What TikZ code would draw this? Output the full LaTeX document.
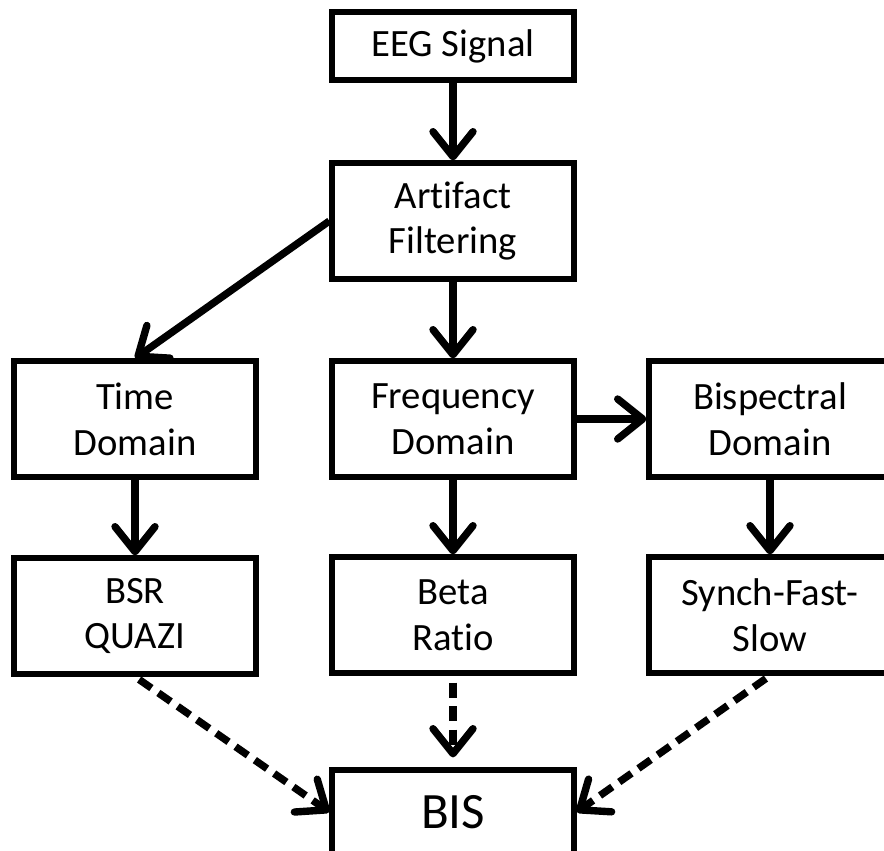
\documentclass[tikz,border=0pt]{standalone}
\usepackage{fontspec}
\setmainfont{Carlito}[Ligatures=NoCommon]
\usetikzlibrary{arrows.meta}
\definecolor{ink}{HTML}{000000}

\begin{document}
\begin{tikzpicture}[>={Straight Barb[length=5mm, width=8mm, round]}]
    \tikzset{
      blk/.style={draw=ink, line width=3pt, inner sep=0pt, align=center,
        minimum width=4.84cm, minimum height=2.32cm,
        font=\fontsize{22}{26}\selectfont},
      arr/.style={->, line width=4.2pt, draw=ink},
      darr/.style={arr, dash pattern=on 0.3cm off 0.17cm}
    }
    \clip (0,0) rectangle (17.68,-17);

    % processing chain
    \node[blk, minimum height=1.36cm] (eeg) at (9.06,-0.92) {EEG Signal};
    \node[blk] (filt)  at (9.06,-4.42)  {Artifact\\Filtering};
    \node[blk] (time)  at (2.70,-8.38)  {Time\\Domain};
    \node[blk] (freq)  at (9.06,-8.38)  {Frequency\\Domain};
    \node[blk] (bisp)  at (15.40,-8.38) {Bispectral\\Domain};
    \node[blk] (bsr)   at (2.70,-12.32) {BSR\\QUAZI};
    \node[blk] (beta)  at (9.06,-12.30) {Beta\\Ratio};
    \node[blk] (synch) at (15.40,-12.30) {Synch-Fast-\\Slow};
    \node[blk, minimum height=1.68cm, font=\fontsize{29}{31}\selectfont]
      (bis) at (9.06,-16.24) {BIS};

    \draw[arr] (eeg.south) -- (filt.north);
    \draw[arr] (filt.west) -- (time.north);
    \draw[arr] (filt.south) -- (freq.north);
    \draw[arr] (freq.east) -- (bisp.west);
    \draw[arr] (time.south) -- (bsr.north);
    \draw[arr] (freq.south) -- (beta.north);
    \draw[arr] (bisp.south) -- (synch.north);

    % sub-parameters combined into the index
    \draw[darr, shorten <=0.1cm] (bsr.south) -- (bis.west);
    \draw[darr, shorten <=0.14cm, shorten >=0.2cm] (beta.south) -- (bis.north);
    \draw[darr, shorten <=0.1cm] (synch.south) -- (bis.east);
\end{tikzpicture}
\end{document}
